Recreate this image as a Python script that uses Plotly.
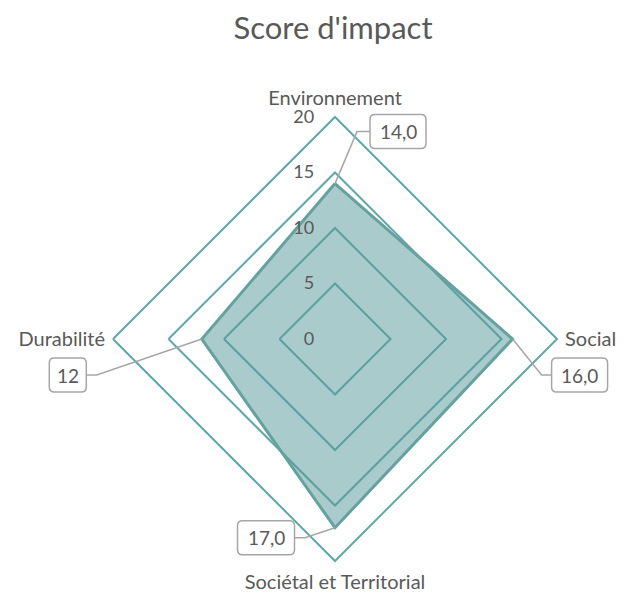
import plotly.graph_objects as go
import math

# ---- data ----
categories = ["Environnement", "Social", "Sociétal et Territorial", "Durabilité"]
values = [14, 16, 17, 12]
value_labels = ["14,0", "16,0", "17,0", "12"]
radial_ticks = [0, 5, 10, 15, 20]
title_text = "Score d'impact"

# ---- style / geometry ----
W, H = 635, 593
PAGE_OFF = 8           # page body margin shifts the figure in the screenshot
CX, CY, RPX = 335, 339, 222
RMAX = 20
TEAL = "#5fa8a8"
LINE = "#64a29f"
TXT = "#595959"
FONT = "Lato"
angles = [90, 0, -90, 180]  # clockwise from top

label_style = [
    dict(bend=(22, -52), box=(63, -52), w=56, h=34, side="left"),
    dict(bend=(29, 36), box=(67, 36), w=56, h=34, side="left"),
    dict(bend=(-30, 10), box=(-69, 10), w=57, h=34, side="right"),
    dict(bend=(-105, 36), box=(-134, 36), w=37, h=34, side="right"),
]


def pt(v, ang):
    s = RPX / RMAX
    return CX + v * s * math.cos(math.radians(ang)), CY - v * s * math.sin(math.radians(ang))


def px2paper(x, y):
    return (x - PAGE_OFF) / W, 1 - (y - PAGE_OFF) / H


fig = go.Figure()
fig.add_trace(go.Scatterpolar(
    r=values + values[:1],
    theta=categories + categories[:1],
    mode="lines",
    fill="toself",
    fillcolor="rgba(83,151,151,0.5)",
    line=dict(color=LINE, width=3),
    hoverinfo="skip",
    showlegend=False,
))

shapes = []
annotations = []
for v, a, lab, st in zip(values, angles, value_labels, label_style):
    x0, y0 = pt(v, a)
    bx, by = x0 + st["bend"][0], y0 + st["bend"][1]
    cx, cy = x0 + st["box"][0], y0 + st["box"][1]
    w, h = st["w"], st["h"]
    ex = cx - w / 2 if st["side"] == "left" else cx + w / 2
    p0, p1, p2 = px2paper(x0, y0), px2paper(bx, by), px2paper(ex, cy)
    shapes.append(dict(type="path", xref="paper", yref="paper",
                       path=f"M{p0[0]},{p0[1]} L{p1[0]},{p1[1]} L{p2[0]},{p2[1]}",
                       line=dict(color="#a6a6a6", width=1.5)))
    rr = 5
    L, R, T, B = cx - w / 2, cx + w / 2, cy - h / 2, cy + h / 2
    pts = [(L + rr, T), (R - rr, T), (R, T), (R, T + rr), (R, B - rr), (R, B), (R - rr, B),
           (L + rr, B), (L, B), (L, B - rr), (L, T + rr), (L, T), (L + rr, T)]
    q = [px2paper(*p) for p in pts]
    path = (f"M{q[0][0]},{q[0][1]} L{q[1][0]},{q[1][1]} Q{q[2][0]},{q[2][1]} {q[3][0]},{q[3][1]} "
            f"L{q[4][0]},{q[4][1]} Q{q[5][0]},{q[5][1]} {q[6][0]},{q[6][1]} "
            f"L{q[7][0]},{q[7][1]} Q{q[8][0]},{q[8][1]} {q[9][0]},{q[9][1]} "
            f"L{q[10][0]},{q[10][1]} Q{q[11][0]},{q[11][1]} {q[12][0]},{q[12][1]} Z")
    shapes.append(dict(type="path", xref="paper", yref="paper", path=path,
                       line=dict(color="#a6a6a6", width=1.5), fillcolor="white"))
    tx, ty = px2paper(cx, cy)
    annotations.append(dict(x=tx, y=ty, xref="paper", yref="paper", text=lab, showarrow=False,
                            xanchor="center", yanchor="middle",
                            font=dict(family=FONT, size=19, color=TXT)))

dx0, dy0 = px2paper(CX - RPX, CY + RPX)
dx1, dy1 = px2paper(CX + RPX, CY - RPX)
tx, ty = px2paper(333, 28)

fig.update_layout(
    width=W, height=H,
    margin=dict(l=0, r=0, t=0, b=0),
    paper_bgcolor="white",
    font=dict(family=FONT, color=TXT),
    title=dict(text=title_text, x=tx, y=ty, xanchor="center", yanchor="middle",
               font=dict(family=FONT, size=31, color=TXT)),
    polar=dict(
        domain=dict(x=[dx0, dx1], y=[dy0, dy1]),
        bgcolor="rgba(0,0,0,0)",
        gridshape="linear",
        radialaxis=dict(range=[0, RMAX], tickvals=radial_ticks, angle=90, tickangle=90,
                        side="counterclockwise", showline=False, ticks="outside", ticklen=14,
                        tickcolor="rgba(0,0,0,0)", gridcolor=TEAL, gridwidth=2,
                        tickfont=dict(family=FONT, size=18, color=TXT)),
        angularaxis=dict(direction="clockwise", rotation=90, showgrid=False, showline=True,
                         linecolor=TEAL, linewidth=2, ticks="outside", ticklen=3,
                         tickcolor="rgba(0,0,0,0)",
                         tickfont=dict(family=FONT, size=20, color=TXT)),
    ),
    shapes=shapes,
    annotations=annotations,
)

fig.write_html("out.html")
